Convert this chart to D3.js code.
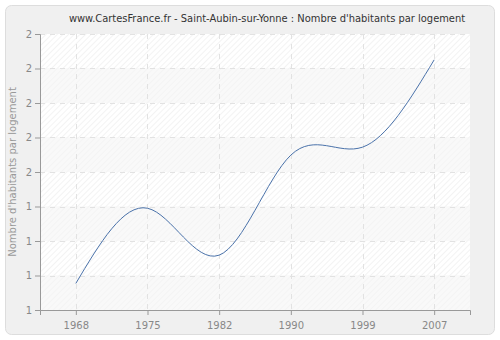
<!DOCTYPE html>
<html>
<head>
<meta charset="utf-8">
<script src="https://cdn.jsdelivr.net/npm/d3@7"></script>
<style>
  body { margin: 0; background: #fff; }
  text { font-family: "DejaVu Sans", Verdana, sans-serif; }
</style>
</head>
<body>
<div id="chart"></div>
<script>
// data
var years = ["1968", "1975", "1982", "1990", "1999", "2007"];
var values = [1.177, 1.395, 1.259, 1.549, 1.572, 1.825];
var yTicks = [1.1, 1.2, 1.3, 1.4, 1.5, 1.6, 1.7, 1.8, 1.9];
var title = "www.CartesFrance.fr - Saint-Aubin-sur-Yonne : Nombre d'habitants par logement";
var yTitle = "Nombre d'habitants par logement";

var W = 500, H = 340;
var margin = { top: 34, right: 30, bottom: 30, left: 40 },
  width = 470 - margin.left,
  height = 310 - margin.top;

var svg = d3.select("#chart")
  .append("svg")
  .attr("width", W)
  .attr("height", H);

// hatch pattern
var defs = svg.append("defs");
var pat = defs.append("pattern")
  .attr("id", "hatch")
  .attr("patternUnits", "userSpaceOnUse")
  .attr("width", 4)
  .attr("height", 4)
  .attr("patternTransform", "rotate(45)");
pat.append("rect").attr("width", 4).attr("height", 4).attr("fill", "#ffffff");
pat.append("line")
  .attr("x1", 0).attr("y1", 0).attr("x2", 0).attr("y2", 4)
  .attr("stroke", "#ebebeb").attr("stroke-width", 1.2);

var pat2 = defs.append("pattern")
  .attr("id", "hatch2")
  .attr("patternUnits", "userSpaceOnUse")
  .attr("width", 4)
  .attr("height", 4)
  .attr("patternTransform", "rotate(45)");
pat2.append("rect").attr("width", 4).attr("height", 4).attr("fill", "#f9f9f9");
pat2.append("line")
  .attr("x1", 0).attr("y1", 0).attr("x2", 0).attr("y2", 4)
  .attr("stroke", "#f2f2f2").attr("stroke-width", 1.2);

// outer panel
svg.append("rect")
  .attr("x", 5.5).attr("y", 5.5)
  .attr("width", 489).attr("height", 329)
  .attr("rx", 6)
  .attr("fill", "#f0f0f0")
  .attr("stroke", "#dddddd");

svg.append("text")
  .attr("x", 267)
  .attr("y", 22)
  .attr("text-anchor", "middle")
  .style("font-family", "'DejaVu Sans Condensed', 'DejaVu Sans', sans-serif")
  .style("font-size", "11px")
  .style("fill", "#333")
  .text(title);

var g = svg.append("g")
  .attr("transform", "translate(" + margin.left + "," + margin.top + ")");

// scales
var x = d3.scalePoint()
  .domain(years)
  .range([0, width])
  .padding(0.5);

var y = d3.scaleLinear()
  .domain([1.1, 1.9])
  .range([height, 0]);

// background bands
for (var i = 0; i < yTicks.length - 1; i++) {
  g.append("rect")
    .attr("x", 0)
    .attr("y", y(yTicks[i + 1]))
    .attr("width", width)
    .attr("height", y(yTicks[i]) - y(yTicks[i + 1]))
    .attr("fill", (yTicks.length - 2 - i) % 2 == 0 ? "url(#hatch)" : "url(#hatch2)");
}

// grid lines
g.selectAll(".hgrid")
  .data(yTicks.slice(1))
  .enter().append("line")
  .attr("x1", 0).attr("x2", width)
  .attr("y1", function (d) { return Math.round(y(d)) + 0.5; })
  .attr("y2", function (d) { return Math.round(y(d)) + 0.5; })
  .attr("stroke", "#e2e2e2")
  .style("stroke-dasharray", "5,5");

g.selectAll(".vgrid")
  .data(years)
  .enter().append("line")
  .attr("x1", function (d) { return Math.round(x(d)) + 0.5; })
  .attr("x2", function (d) { return Math.round(x(d)) + 0.5; })
  .attr("y1", 0).attr("y2", height)
  .attr("stroke", "#e2e2e2")
  .style("stroke-dasharray", "5,5");

// axes
var yAxis = g.append("g")
  .call(d3.axisLeft(y).tickValues(yTicks).tickFormat(d3.format(".0f")).tickSizeOuter(0).tickSize(5));
var xAxis = g.append("g")
  .attr("transform", "translate(0," + height + ")")
  .call(d3.axisBottom(x).tickSizeOuter(0).tickSize(5));

[yAxis, xAxis].forEach(function (a) {
  a.select(".domain").attr("stroke", "#999");
  a.selectAll(".tick line").attr("stroke", "#999");
  a.selectAll(".tick text")
    .style("fill", "#888")
    .style("font-size", "10px")
    .style("font-family", "DejaVu Sans, sans-serif");
});
xAxis.selectAll(".tick text").attr("dy", "1.1em");

g.append("text")
  .attr("transform", "rotate(-90)")
  .attr("x", -height / 2)
  .attr("y", -24)
  .attr("text-anchor", "middle")
  .style("font-size", "10px")
  .style("fill", "#999")
  .text(yTitle);

// the line
g.append("path")
  .datum(values)
  .attr("fill", "none")
  .attr("stroke", "#4a72aa")
  .attr("stroke-width", 1)
  .attr("d", d3.line()
    .curve(d3.curveNatural)
    .x(function (d, i) { return x(years[i]); })
    .y(function (d) { return y(d); })
  );
</script>
</body>
</html>
